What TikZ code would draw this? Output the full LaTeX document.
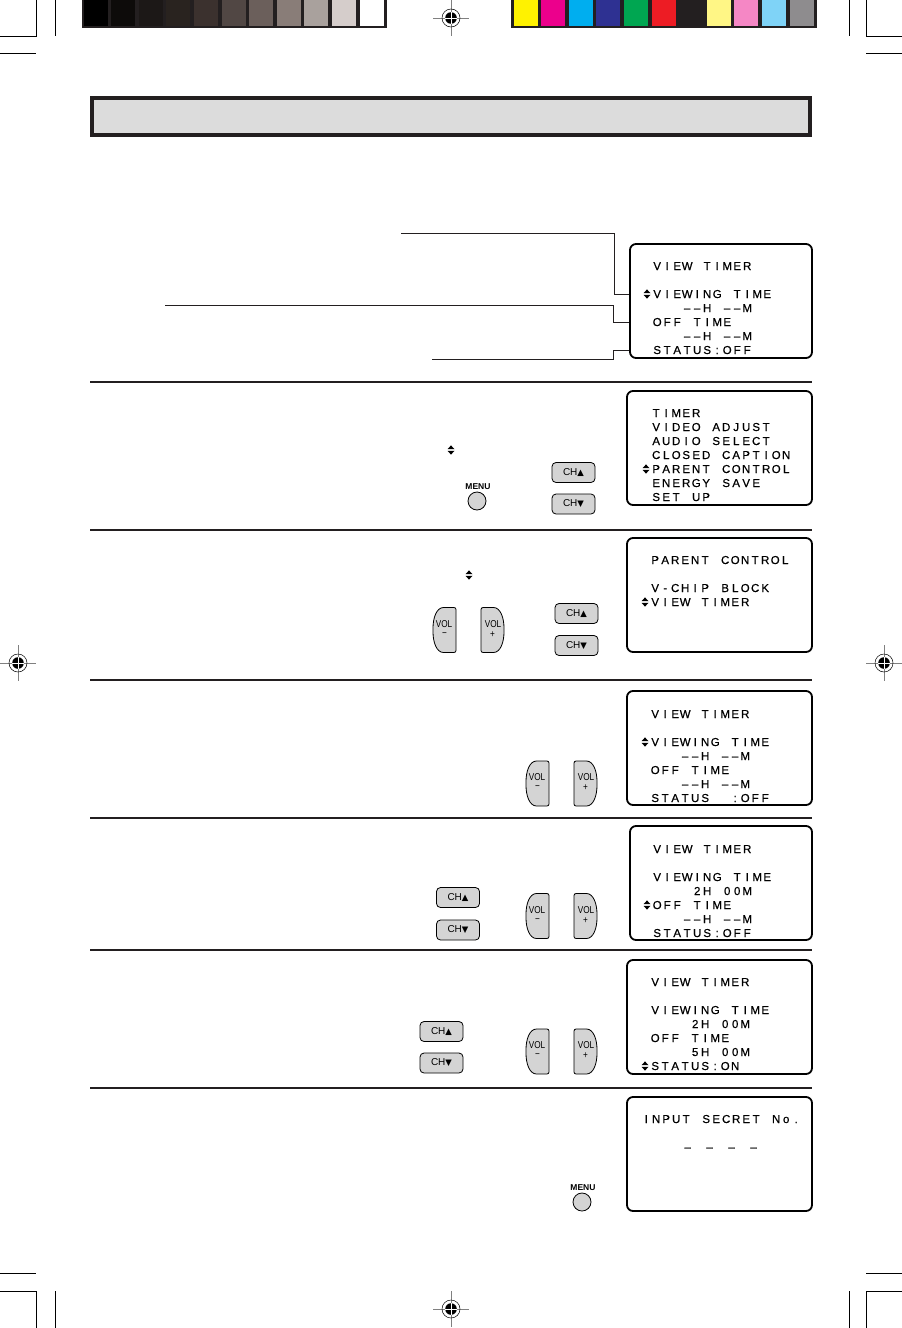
\documentclass[tikz,border=0pt]{standalone}
\usepackage{fontspec}
\setmainfont{Liberation Sans}
\newfontfamily\symfont{DejaVu Sans}
\newfontfamily\scrfont{Liberation Sans}[FakeBold=0.6]
\newfontfamily\narrowfont{Liberation Sans}[FakeStretch=0.82]
\usepackage{xcolor}
\usepackage{tikz}
\usetikzlibrary{positioning,calc}
\definecolor{regblack}{RGB}{35,31,32}
\definecolor{btngray}{RGB}{212,212,212}
\definecolor{barfill}{RGB}{220,220,220}
% one character per fixed cell, * is an empty cell
\newlength\cellw \setlength\cellw{10pt}
\def\celldo#1{\ifx#1\relax\else\ifx#1*\hspace*{\cellw}\else\makebox[\cellw]{#1}\fi\expandafter\celldo\fi}
\newcommand\cells[1]{\edef\celltmp{#1}\expandafter\celldo\celltmp\relax}
\tikzset{
  screen/.style={draw, line width=1.8pt, rounded corners=6pt, minimum width=185pt,
                 minimum height=114pt, inner sep=0pt},
  scrline/.style={anchor=base west, inner sep=0pt, font=\scrfont\fontsize{11.5}{13}\selectfont},
  chbtn/.style={draw, fill=btngray, line width=0.8pt, rounded corners=4pt, minimum width=43pt,
                minimum height=20pt, inner sep=0pt, font=\fontsize{10}{10}\selectfont},
  menulbl/.style={inner sep=0pt, font=\bfseries\fontsize{8.5}{9}\selectfont},
  menubtn/.style={circle, draw, fill=btngray, line width=0.8pt, minimum size=18pt, inner sep=0pt},
  vollbl/.style={inner sep=0pt, font=\narrowfont\fontsize{10}{10}\selectfont},
  sepline/.style={line width=1.2pt, regblack},
  leaderline/.style={line width=1pt, regblack},
  cropline/.style={line width=0.7pt},
  updn/.pic={
    \fill (-3.5,-0.8) -- (3.5,-0.8) -- (0,-4.6) -- cycle;
    \fill (-3.5,0.8) -- (3.5,0.8) -- (0,4.6) -- cycle;
  },
  volminus/.pic={
    \draw[fill=btngray, line width=0.8pt, rounded corners=2pt] (11.5,-22.5) -- (1,-22.5)
      .. controls (-8,-22.5) and (-11.5,-12) .. (-11.5,0)
      .. controls (-11.5,12) and (-8,22.5) .. (1,22.5) -- (11.5,22.5) -- cycle;
    \node[vollbl] (-txt) at (-0.5,-6) {VOL};
    \node[vollbl] (-sgn) at (0,4.5) {−};
  },
  volplus/.pic={
    \draw[xscale=-1, fill=btngray, line width=0.8pt, rounded corners=2pt] (11.5,-22.5) -- (1,-22.5)
      .. controls (-8,-22.5) and (-11.5,-12) .. (-11.5,0)
      .. controls (-11.5,12) and (-8,22.5) .. (1,22.5) -- (11.5,22.5) -- cycle;
    \node[vollbl] (-txt) at (0.5,-6) {VOL};
    \node[vollbl] (-sgn) at (0,4.5) {+};
  },
  regmark/.pic={
    \draw[gray, line width=0.4pt] (-18,0) -- (18,0) (0,-18) -- (0,18);
    \draw[line width=0.5pt] (0,0) circle (9);
    \fill (0,0) circle (5.8);
    \draw[white, line width=0.9pt] (-5.8,0) -- (5.8,0) (0,-5.8) -- (0,5.8);
  }
}
\newcommand\chup{CH{\symfont\fontsize{8.5}{8}\selectfont ▲}}
\newcommand\chdn{CH{\symfont\fontsize{8.5}{8}\selectfont ▼}}

\begin{document}
\begin{tikzpicture}[x=1pt, y=-1pt]
  \useasboundingbox (0,0) rectangle (902,1328);
  % colour bars
  \fill[regblack] (82,0) rectangle (387,27.5);
  \foreach \c [count=\i from 0] in {000000,0D0B0A,1C1817,29231F,3B312E,514744,6B5F5B,897D78,A9A19D,D5CDCB,FFFFFF}{
    \definecolor{patch}{HTML}{\c}
    \fill[patch] ({83.5+27.6*\i},0) rectangle +(24,25.5);
  }
  \fill[regblack] (511,0) rectangle (817,27.5);
  \foreach \c [count=\i from 0] in {FFF200,EC008C,00AEEF,2E3192,00A651,ED1C24,231F20,FFF685,F587C5,7FD3F7,8E8C8E}{
    \definecolor{patch}{HTML}{\c}
    \fill[patch] ({513.5+27.6*\i},0) rectangle +(24,25.5);
  }
  % crop and register marks
  \draw[cropline] (36,0) |- (0,36) (55,0) -- (55,36) (0,53) -- (36,53);
  \draw[cropline] (866,0) |- (902,36) (849,0) -- (849,36) (866,53) -- (902,53);
  \draw[cropline] (36,1328) |- (0,1291) (55,1328) -- (55,1291) (0,1273) -- (36,1273);
  \draw[cropline] (866,1328) |- (902,1291) (849,1328) -- (849,1291) (866,1273) -- (902,1273);
  \pic (regT) at (451,18) {regmark};
  \pic (regB) at (451,1309) {regmark};
  \pic (regL) at (18,663) {regmark};
  \pic (regR) at (884,663) {regmark};
  % title bar
  \node[draw=regblack, line width=4pt, fill=barfill, minimum width=718pt, minimum height=37pt,
        inner sep=0pt] (title) at (451,116) {};
  \foreach \y in {382,530,680,818,950,1088}
    \draw[sepline] (90,\y) -- (812,\y);

  % step 0: view timer screen with leaders
  \node[screen, minimum width=182pt] (scrA) at (721,301) {};
  \foreach \t [count=\i from 0] in {*VIEW*TIMER, ,*VIEWING*TIME,****––H*––M,*OFF*TIME,****––H*––M,*STATUS:OFF}
    \node[scrline] (a\i) at (642,270+14*\i) {\cells{\t}};
  \pic at (647,294) {updn};
  \coordinate (ldA) at (401,233);
  \coordinate (ldB) at (165,305);
  \coordinate (ldC) at (432,359);
  \draw[leaderline] (ldA) -| (614,294) -- (scrA.west |- 0,294);
  \draw[leaderline] (ldB) -| (613,322) -- (scrA.west |- 0,322);
  \draw[leaderline] (ldC) -| (613,350) -- (scrA.west |- 0,350);

  % step 1
  \pic at (451,450) {updn};
  \node[menulbl] (menuA) at (478,487) {MENU};
  \node[menubtn] (menubtnA) at (477,501) {};
  \node[chbtn] (chupA) at (573.5,472.5) {\chup};
  \node[chbtn] (chdnA) at (573.5,504) {\chdn};
  \node[screen] (scrB) at (719.5,448) {};
  \foreach \t [count=\i from 0] in {*TIMER,*VIDEO*ADJUST,*AUDIO*SELECT,*CLOSED*CAPTION,*PARENT*CONTROL,*ENERGY*SAVE,*SET*UP}
    \node[scrline] (b\i) at (641,417+14*\i) {\cells{\t}};
  \pic at (646,469) {updn};

  % step 2
  \pic at (469,575) {updn};
  \pic (volmB) at (444.5,630) {volminus};
  \pic (volpB) at (492.5,630) {volplus};
  \node[chbtn] (chupB) at (576.5,613.5) {\chup};
  \node[chbtn] (chdnB) at (576.5,645.5) {\chdn};
  \node[screen] (scrC) at (719.5,595) {};
  \foreach \t [count=\i from 0] in {*PARENT*CONTROL, ,*V-CHIP*BLOCK,*VIEW*TIMER}
    \node[scrline] (c\i) at (640,564+14*\i) {\cells{\t}};
  \pic at (645,602) {updn};

  % step 3
  \pic (volmC) at (537.5,783.5) {volminus};
  \pic (volpC) at (585.5,783.5) {volplus};
  \node[screen] (scrD) at (719.5,748) {};
  \foreach \t [count=\i from 0] in {*VIEW*TIMER, ,*VIEWING*TIME,****––H*––M,*OFF*TIME,****––H*––M,*STATUS**:OFF}
    \node[scrline] (d\i) at (640,718+14*\i) {\cells{\t}};
  \pic at (645,742) {updn};

  % step 4
  \node[chbtn] (chupD) at (458,897.5) {\chup};
  \node[chbtn] (chdnD) at (458,930) {\chdn};
  \pic (volmD) at (537.5,916) {volminus};
  \pic (volpD) at (585.5,916) {volplus};
  \node[screen, minimum width=182pt] (scrE) at (721,883) {};
  \foreach \t [count=\i from 0] in {*VIEW*TIMER, ,*VIEWING*TIME,*****2H*00M,*OFF*TIME,****––H*––M,*STATUS:OFF}
    \node[scrline] (e\i) at (642,853+14*\i) {\cells{\t}};
  \pic at (647,905) {updn};

  % step 5
  \node[chbtn] (chupE) at (441.5,1031.5) {\chup};
  \node[chbtn] (chdnE) at (441.5,1063) {\chdn};
  \pic (volmE) at (537.5,1051.5) {volminus};
  \pic (volpE) at (585.5,1051.5) {volplus};
  \node[screen] (scrF) at (719.5,1017) {};
  \foreach \t [count=\i from 0] in {*VIEW*TIMER, ,*VIEWING*TIME,*****2H*00M,*OFF*TIME,*****5H*00M,*STATUS:ON}
    \node[scrline] (f\i) at (640,986+14*\i) {\cells{\t}};
  \pic at (645,1066) {updn};

  % step 6
  \node[menulbl] (menuB) at (583,1188) {MENU};
  \node[menubtn] (menubtnB) at (582,1202) {};
  \node[screen] (scrG) at (719.5,1154) {};
  \node[scrline] (g0) at (641,1123) {\cells{INPUT*SECRET*No.}};
  \node[scrline] (g1) at (682,1151) {\setlength\cellw{11pt}\cells{–*–*–*–}};
\end{tikzpicture}
\end{document}
